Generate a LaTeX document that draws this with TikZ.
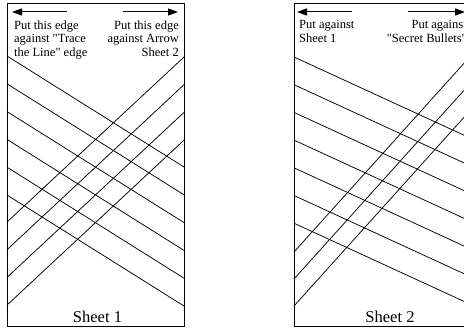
\documentclass[tikz,border=0pt]{standalone}
\usepackage{fontspec}
\newfontfamily\tnr{Liberation Serif}
\usetikzlibrary{arrows.meta}
\begin{document}
\begin{tikzpicture}[x=1pt,y=-1pt,
  sheet/.style={draw, line width=0.9pt},
  cut/.style={line width=0.75pt},
  hint/.style={font=\tnr\fontsize{12.5}{14}\selectfont, inner sep=0pt},
  title/.style={font=\tnr\fontsize{16.5}{18}\selectfont, inner sep=0pt},
  arr/.style={line width=1pt, -{Triangle[length=10pt,width=7pt]}}]
\useasboundingbox (0,0) rectangle (464,329);
\begin{scope}
\clip (0,0) rectangle (464,329);
% Sheet 1
\draw[sheet] (7,3) rectangle (184,326);
\foreach \k in {0,...,5} \draw[cut] (7,{56+27.8*\k}) -- (184,{167+27.8*\k});
\foreach \k in {0,...,3} \draw[cut] (7,{222+27.7*\k}) -- (184,{57+27.7*\k});
\coordinate (a1s) at (67,12); \coordinate (a1e) at (12,12);
\coordinate (a2s) at (123,12); \coordinate (a2e) at (178,12);
\draw[arr] (a1s) -- (a1e);
\draw[arr] (a2s) -- (a2e);
\node[hint, anchor=base west, align=left] (s1tl) at (14,57) {Put this edge\\against "Trace\\the Line" edge};
\node[hint, anchor=base east, align=right] (s1tr) at (179,57) {Put this edge\\against Arrow\\Sheet 2};
\node[title, anchor=base] (s1lab) at (97.5,322) {Sheet 1};
% Sheet 2
\draw[sheet] (294,3) rectangle (480,326);
\foreach \k in {0,...,6} \draw[cut] (294,{57+27.7*\k}) -- (480,{57+27.7*\k+0.46*186});
\foreach \k in {0,...,2} \draw[cut] (294,{252+27*\k}) -- (480,{252+27*\k-1.11*186});
\coordinate (b1s) at (352,12); \coordinate (b1e) at (297,12);
\coordinate (b2s) at (408,12); \coordinate (b2e) at (465,12);
\draw[arr] (b1s) -- (b1e);
\draw[arr] (b2s) -- (b2e);
\node[hint, anchor=base west, align=left] (s2tl) at (299,43) {Put against\\Sheet 1};
\node[hint, anchor=base east, align=right] (s2tr) at (467,43) {Put against\\"Secret Bullets"};
\node[title, anchor=base] (s2lab) at (390,322) {Sheet 2};
\end{scope}
\end{tikzpicture}
\end{document}
